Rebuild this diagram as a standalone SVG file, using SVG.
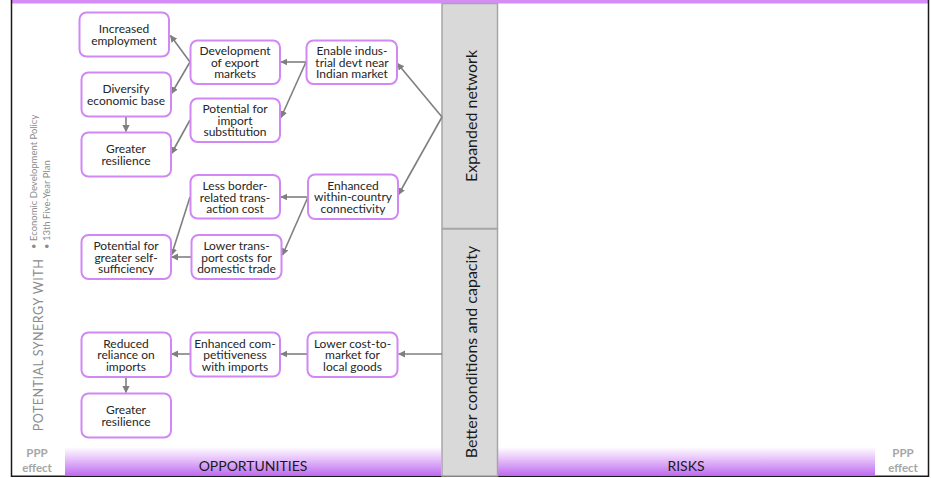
<svg xmlns="http://www.w3.org/2000/svg" width="931" height="478" viewBox="0 0 931 478">
  <style>
    .node rect { fill: #ffffff; stroke: #d288f4; stroke-width: 2; }
    .node text { font-family: Lato, "Liberation Sans", sans-serif; font-size: 12px; fill: #262626; text-anchor: middle; dominant-baseline: central; }
    .conn line { stroke: #7f7f7f; stroke-width: 1.6; fill: none; marker-end: url(#arr); }
    .col { fill: #d9d9d9; stroke: #a6a6a6; stroke-width: 1.5; }
    .coltext { font-family: Lato, "Liberation Sans", sans-serif; font-size: 16px; fill: #1a1a1a; text-anchor: middle; dominant-baseline: central; }
    .side { font-family: Lato, "Liberation Sans", sans-serif; fill: #8c8c8c; dominant-baseline: central; }
    .ppp { font-family: Lato, "Liberation Sans", sans-serif; font-size: 11.5px; font-weight: bold; fill: #a6a6a6; text-anchor: middle; }
    .band { font-family: Lato, "Liberation Sans", sans-serif; font-size: 14px; fill: #1a1a1a; text-anchor: middle; }
  </style>
  <defs>
    <marker id="arr" viewBox="0 0 10 10" refX="9" refY="5" markerWidth="4.5" markerHeight="4.5" orient="auto" markerUnits="strokeWidth">
      <path d="M0,0 L10,5 L0,10 z" fill="#7f7f7f"/>
    </marker>
    <linearGradient id="bandGrad" x1="0" y1="0" x2="0" y2="1">
      <stop offset="0" stop-color="#ffffff"/>
      <stop offset="0.35" stop-color="#ebcdfb"/>
      <stop offset="1" stop-color="#bf6cf0"/>
    </linearGradient>
  </defs>

  <!-- frame -->
  <rect x="11" y="0" width="918" height="3.5" fill="#d68cf7"/>
  <line x1="11.5" y1="0" x2="11.5" y2="477" stroke="#1a1a1a" stroke-width="1.5"/>
  <line x1="928.5" y1="0" x2="928.5" y2="477" stroke="#1a1a1a" stroke-width="1.5"/>
  <line x1="11" y1="476.2" x2="929" y2="476.2" stroke="#1a1a1a" stroke-width="1.5"/>

  <!-- bottom bands -->
  <rect x="65" y="447" width="376" height="28.5" fill="url(#bandGrad)"/>
  <rect x="498" y="447" width="377" height="28.5" fill="url(#bandGrad)"/>
  <text class="band" x="253" y="471">OPPORTUNITIES</text>
  <text class="band" x="686" y="471">RISKS</text>
  <text class="ppp" x="37" y="457">PPP</text>
  <text class="ppp" x="37" y="472">effect</text>
  <text class="ppp" x="903" y="457">PPP</text>
  <text class="ppp" x="903" y="472">effect</text>

  <!-- side label -->
  <text class="side" font-size="12.5" letter-spacing="0.5" text-anchor="middle" transform="translate(38,345) rotate(-90)">POTENTIAL SYNERGY WITH</text>
  <text class="side" font-size="9.5" text-anchor="start" transform="translate(33,249) rotate(-90)">• Economic Development Policy</text>
  <text class="side" font-size="9.5" text-anchor="start" transform="translate(46,249) rotate(-90)">• 13th Five-Year Plan</text>

  <!-- central columns -->
  <g id="col-expanded">
    <rect class="col" x="442" y="3.5" width="55.5" height="225"/>
    <text class="coltext" transform="translate(470,116) rotate(-90)">Expanded network</text>
  </g>
  <g id="col-better">
    <rect class="col" x="442" y="229" width="55.5" height="247"/>
    <text class="coltext" transform="translate(470,352) rotate(-90)">Better conditions and capacity</text>
  </g>

  <!-- connectors -->
  <g id="connectors" class="conn">
    <line x1="442" y1="117" x2="397.5" y2="63.5"/>
    <line x1="442" y1="117" x2="398.5" y2="194.5"/>
    <line x1="442" y1="354" x2="398.5" y2="354"/>
    <line x1="306" y1="62" x2="281" y2="62"/>
    <line x1="306" y1="62" x2="281" y2="117.5"/>
    <line x1="190" y1="62" x2="170.5" y2="35.5"/>
    <line x1="190" y1="62" x2="171.5" y2="93.5"/>
    <line x1="190" y1="120" x2="171.5" y2="153.5"/>
    <line x1="126" y1="117" x2="126" y2="131.5"/>
    <line x1="308" y1="197" x2="281" y2="197"/>
    <line x1="308" y1="197" x2="282.5" y2="255"/>
    <line x1="190" y1="197" x2="171.5" y2="255"/>
    <line x1="191" y1="257" x2="171.5" y2="257"/>
    <line x1="307" y1="354" x2="281" y2="354"/>
    <line x1="190" y1="354" x2="171.5" y2="354"/>
    <line x1="126" y1="377" x2="126" y2="392.5"/>
  </g>

  <!-- column 3 -->
  <g id="n-enable" class="node">
    <rect x="306.5" y="40.5" width="90.5" height="43.5" rx="7"/>
    <text x="352" y="50.5">Enable indus-</text>
    <text x="352" y="62">trial devt near</text>
    <text x="352" y="73.5">Indian market</text>
  </g>
  <g id="n-within" class="node">
    <rect x="308" y="174.5" width="90" height="44.5" rx="7"/>
    <text x="353" y="185">Enhanced</text>
    <text x="353" y="196.5">within-country</text>
    <text x="353" y="208">connectivity</text>
  </g>
  <g id="n-costmarket" class="node">
    <rect x="307.5" y="332.5" width="90" height="44.5" rx="7"/>
    <text x="352.5" y="343">Lower cost-to-</text>
    <text x="352.5" y="354.5">market for</text>
    <text x="352.5" y="366">local goods</text>
  </g>

  <!-- column 2 -->
  <g id="n-export" class="node">
    <rect x="190.5" y="40.5" width="89.5" height="43.5" rx="7"/>
    <text x="235" y="50.5">Development</text>
    <text x="235" y="62">of export</text>
    <text x="235" y="73.5">markets</text>
  </g>
  <g id="n-import" class="node">
    <rect x="190.5" y="98.5" width="89.5" height="43.5" rx="7"/>
    <text x="235" y="108.5">Potential for</text>
    <text x="235" y="120">import</text>
    <text x="235" y="131.5">substitution</text>
  </g>
  <g id="n-border" class="node">
    <rect x="190.5" y="175" width="89.5" height="43.5" rx="7"/>
    <text x="235" y="185.5">Less border-</text>
    <text x="235" y="197">related trans-</text>
    <text x="235" y="208.5">action cost</text>
  </g>
  <g id="n-transport" class="node">
    <rect x="191.5" y="235" width="90" height="44" rx="7"/>
    <text x="236.5" y="245.5">Lower trans-</text>
    <text x="236.5" y="257">port costs for</text>
    <text x="236.5" y="268.5">domestic trade</text>
  </g>
  <g id="n-compete" class="node">
    <rect x="190.5" y="332.5" width="89.5" height="44" rx="7"/>
    <text x="235" y="343">Enhanced com-</text>
    <text x="235" y="354.5">petitiveness</text>
    <text x="235" y="366">with imports</text>
  </g>

  <!-- column 1 -->
  <g id="n-employment" class="node">
    <rect x="79.5" y="12.5" width="89.5" height="44" rx="7"/>
    <text x="124" y="28.5">Increased</text>
    <text x="124" y="40.5">employment</text>
  </g>
  <g id="n-diversify" class="node">
    <rect x="81.5" y="72.5" width="89.5" height="44" rx="7"/>
    <text x="126" y="88.5">Diversify</text>
    <text x="126" y="100.5">economic base</text>
  </g>
  <g id="n-resilience1" class="node">
    <rect x="81.5" y="132.5" width="89.5" height="44" rx="7"/>
    <text x="126" y="148.5">Greater</text>
    <text x="126" y="160.5">resilience</text>
  </g>
  <g id="n-selfsuff" class="node">
    <rect x="81.5" y="235" width="89.5" height="44" rx="7"/>
    <text x="126" y="245.5">Potential for</text>
    <text x="126" y="257">greater self-</text>
    <text x="126" y="268.5">sufficiency</text>
  </g>
  <g id="n-reliance" class="node">
    <rect x="81.5" y="332.5" width="89.5" height="44.5" rx="7"/>
    <text x="126" y="343">Reduced</text>
    <text x="126" y="354.5">reliance on</text>
    <text x="126" y="366">imports</text>
  </g>
  <g id="n-resilience2" class="node">
    <rect x="81.5" y="393.5" width="89.5" height="44" rx="7"/>
    <text x="126" y="409.5">Greater</text>
    <text x="126" y="421.5">resilience</text>
  </g>
</svg>
